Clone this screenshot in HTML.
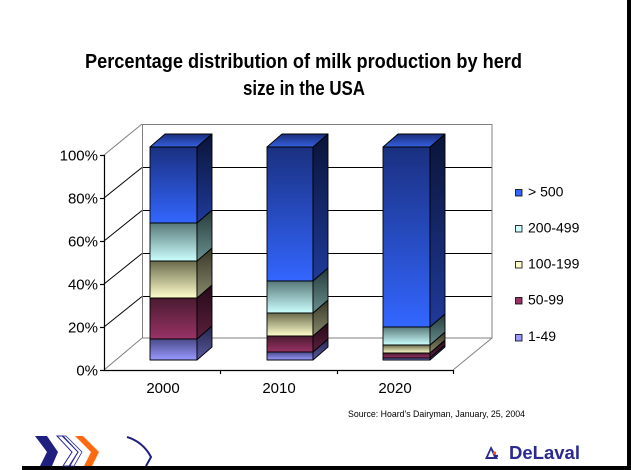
<!DOCTYPE html>
<html><head><meta charset="utf-8"><style>
html,body{margin:0;padding:0;background:#fff;}
svg{display:block;}
</style></head><body>
<svg width="631" height="470" viewBox="0 0 631 470" xmlns="http://www.w3.org/2000/svg" font-family="Liberation Sans, Arial, sans-serif">
<defs>
<linearGradient id="f5" x1="0" y1="0" x2="0" y2="1"><stop offset="0" stop-color="#1a3080"/><stop offset="1" stop-color="#3366ff"/></linearGradient>
<linearGradient id="s5" x1="0" y1="0" x2="0" y2="1"><stop offset="0" stop-color="#0a1438"/><stop offset="1" stop-color="#1f3a9a"/></linearGradient>
<linearGradient id="t5" x1="0" y1="0" x2="0" y2="1"><stop offset="0" stop-color="#1a2e7a"/><stop offset="1" stop-color="#3560e0"/></linearGradient>
<linearGradient id="f4" x1="0" y1="0" x2="0" y2="1"><stop offset="0" stop-color="#587878"/><stop offset="1" stop-color="#ccffff"/></linearGradient>
<linearGradient id="s4" x1="0" y1="0" x2="0" y2="1"><stop offset="0" stop-color="#263a3a"/><stop offset="1" stop-color="#6a9090"/></linearGradient>
<linearGradient id="f3" x1="0" y1="0" x2="0" y2="1"><stop offset="0" stop-color="#6a6a4c"/><stop offset="1" stop-color="#ffffcc"/></linearGradient>
<linearGradient id="s3" x1="0" y1="0" x2="0" y2="1"><stop offset="0" stop-color="#363626"/><stop offset="1" stop-color="#8a8a6e"/></linearGradient>
<linearGradient id="f2" x1="0" y1="0" x2="0" y2="1"><stop offset="0" stop-color="#4a1a30"/><stop offset="1" stop-color="#993366"/></linearGradient>
<linearGradient id="s2" x1="0" y1="0" x2="0" y2="1"><stop offset="0" stop-color="#260a18"/><stop offset="1" stop-color="#5a1f3d"/></linearGradient>
<linearGradient id="f1" x1="0" y1="0" x2="0" y2="1"><stop offset="0" stop-color="#4a4a8a"/><stop offset="1" stop-color="#9999ff"/></linearGradient>
<linearGradient id="s1" x1="0" y1="0" x2="0" y2="1"><stop offset="0" stop-color="#26264e"/><stop offset="1" stop-color="#5a5aa0"/></linearGradient>
</defs>

<!-- borders -->
<rect x="627" y="0" width="4" height="470" fill="#000"/>
<rect x="22" y="466" width="609" height="4" fill="#000"/>

<!-- title -->
<text x="303.5" y="68" font-size="20" font-weight="bold" text-anchor="middle" textLength="437" lengthAdjust="spacingAndGlyphs">Percentage distribution of milk production by herd</text>
<text x="304" y="95" font-size="20" font-weight="bold" text-anchor="middle" textLength="122" lengthAdjust="spacingAndGlyphs">size in the USA</text>

<!-- back wall -->
<g stroke-width="1" fill="none">
<line x1="142" y1="167.5" x2="492" y2="167.5" stroke="#000"/>
<line x1="142" y1="210.5" x2="492" y2="210.5" stroke="#000"/>
<line x1="142" y1="253.5" x2="492" y2="253.5" stroke="#000"/>
<line x1="142" y1="296.5" x2="492" y2="296.5" stroke="#000"/>
<rect x="142.5" y="124.5" width="349.5" height="213.5" stroke="#808080"/>
<!-- side wall diagonals -->
<line x1="104" y1="155" x2="142" y2="124" stroke="#808080"/>
<line x1="104" y1="198" x2="142" y2="167.5" stroke="#000"/>
<line x1="104" y1="241" x2="142" y2="210.5" stroke="#000"/>
<line x1="104" y1="284" x2="142" y2="253.5" stroke="#000"/>
<line x1="104" y1="327" x2="142" y2="296.5" stroke="#000"/>
<line x1="104" y1="370" x2="142" y2="338" stroke="#808080"/>
<!-- floor right -->
<line x1="453" y1="370" x2="492" y2="338" stroke="#808080"/>
</g>

<!-- axes -->
<g stroke="#000" stroke-width="1.2">
<line x1="104.5" y1="155" x2="104.5" y2="370.5"/>
<line x1="104" y1="370.5" x2="453" y2="370.5"/>
<line x1="100" y1="155.5" x2="104" y2="155.5"/>
<line x1="100" y1="198.5" x2="104" y2="198.5"/>
<line x1="100" y1="241.5" x2="104" y2="241.5"/>
<line x1="100" y1="284.5" x2="104" y2="284.5"/>
<line x1="100" y1="327.5" x2="104" y2="327.5"/>
<line x1="100" y1="370.5" x2="104" y2="370.5"/>
<line x1="220.5" y1="370" x2="220.5" y2="374"/>
<line x1="337.5" y1="370" x2="337.5" y2="374"/>
<line x1="453.5" y1="370" x2="453.5" y2="374"/>
</g>

<!-- y labels -->
<g font-size="15" text-anchor="end" fill="#000">
<text x="98" y="160.5">100%</text>
<text x="98" y="203.5">80%</text>
<text x="98" y="246.5">60%</text>
<text x="98" y="289.5">40%</text>
<text x="98" y="332.5">20%</text>
<text x="98" y="375.5">0%</text>
</g>
<!-- x labels -->
<g font-size="15" text-anchor="middle" fill="#000">
<text x="163" y="393">2000</text>
<text x="279" y="393">2010</text>
<text x="395" y="393">2020</text>
</g>

<!-- bars -->
<g stroke="#000" stroke-width="0.9" stroke-linejoin="round">
<!-- 2000: x 150-197 -->
<rect x="150" y="339" width="47" height="21" fill="url(#f1)"/>
<polygon points="197,360 212,347 212,326 197,339" fill="url(#s1)"/>
<rect x="150" y="298" width="47" height="41" fill="url(#f2)"/>
<polygon points="197,339 212,326 212,285 197,298" fill="url(#s2)"/>
<rect x="150" y="261" width="47" height="37" fill="url(#f3)"/>
<polygon points="197,298 212,285 212,248 197,261" fill="url(#s3)"/>
<rect x="150" y="223" width="47" height="38" fill="url(#f4)"/>
<polygon points="197,261 212,248 212,210 197,223" fill="url(#s4)"/>
<rect x="150" y="147" width="47" height="76" fill="url(#f5)"/>
<polygon points="197,223 212,210 212,134 197,147" fill="url(#s5)"/>
<polygon points="150,147 165,134 212,134 197,147" fill="url(#t5)"/>

<!-- 2010: x 267-313 -->
<rect x="267" y="352" width="46" height="8" fill="url(#f1)"/>
<polygon points="313,360 328,347 328,339 313,352" fill="url(#s1)"/>
<rect x="267" y="336" width="46" height="16" fill="url(#f2)"/>
<polygon points="313,352 328,339 328,323 313,336" fill="url(#s2)"/>
<rect x="267" y="313" width="46" height="23" fill="url(#f3)"/>
<polygon points="313,336 328,323 328,300 313,313" fill="url(#s3)"/>
<rect x="267" y="281" width="46" height="32" fill="url(#f4)"/>
<polygon points="313,313 328,300 328,268 313,281" fill="url(#s4)"/>
<rect x="267" y="147" width="46" height="134" fill="url(#f5)"/>
<polygon points="313,281 328,268 328,134 313,147" fill="url(#s5)"/>
<polygon points="267,147 282,134 328,134 313,147" fill="url(#t5)"/>

<!-- 2020: x 383-430 -->
<rect x="383" y="358" width="47" height="2" fill="url(#f1)"/>
<polygon points="430,360 445,347 445,345 430,358" fill="url(#s1)"/>
<rect x="383" y="353" width="47" height="5" fill="url(#f2)"/>
<polygon points="430,358 445,345 445,340 430,353" fill="url(#s2)"/>
<rect x="383" y="345" width="47" height="8" fill="url(#f3)"/>
<polygon points="430,353 445,340 445,332 430,345" fill="url(#s3)"/>
<rect x="383" y="327" width="47" height="18" fill="url(#f4)"/>
<polygon points="430,345 445,332 445,314 430,327" fill="url(#s4)"/>
<rect x="383" y="147" width="47" height="180" fill="url(#f5)"/>
<polygon points="430,327 445,314 445,134 430,147" fill="url(#s5)"/>
<polygon points="383,147 398,134 445,134 430,147" fill="url(#t5)"/>
</g>

<!-- legend -->
<g stroke="#000" stroke-width="0.8">
<rect x="515.5" y="189.5" width="6.5" height="6.5" fill="#3366ff"/>
<rect x="515.5" y="225.5" width="6.5" height="6.5" fill="#ccffff"/>
<rect x="515.5" y="261.5" width="6.5" height="6.5" fill="#ffffcc"/>
<rect x="515.5" y="297.5" width="6.5" height="6.5" fill="#993366"/>
<rect x="515.5" y="334.5" width="6.5" height="6.5" fill="#9999ff"/>
</g>
<g font-size="14" fill="#000">
<text x="528" y="196.5">&gt; 500</text>
<text x="528" y="232.5">200-499</text>
<text x="528" y="268.5">100-199</text>
<text x="528" y="304.5">50-99</text>
<text x="528" y="341">1-49</text>
</g>

<!-- source -->
<text x="348" y="417" font-size="9.5" fill="#000" textLength="177" lengthAdjust="spacingAndGlyphs">Source: Hoard's Dairyman, January, 25, 2004</text>

<!-- chevrons -->
<polygon points="35,436 47,436 58,452 52,466 40,466 47,452" fill="#1f1f80"/>
<polygon points="57,436 63,436 78,452 69,466 63,466 72,452" fill="none" stroke="#2a2a90" stroke-width="1"/>
<polygon points="62,436 66,436 82,452 74,466 70,466 78,452" fill="none" stroke="#2a2a90" stroke-width="0.8"/>
<polygon points="75,436 83,436 99,452 92,466 84,466 91,452" fill="#ff6a10"/>
<path d="M127,437 Q143,442 151,457 L146,466" fill="none" stroke="#1f1f80" stroke-width="2"/>

<!-- DeLaval logo -->
<polygon points="491,446 485,459 498,459" fill="#2b2b8f"/>
<polygon points="491,450 488,457 494,457" fill="#fff"/>
<circle cx="494.5" cy="453" r="1.6" fill="#ff5010"/>
<circle cx="497" cy="456" r="1.2" fill="#2b2b8f"/>
<text x="509" y="459" font-size="18" font-weight="bold" fill="#2b2b8f" textLength="71" lengthAdjust="spacingAndGlyphs">DeLaval</text>
</svg>
</body></html>
